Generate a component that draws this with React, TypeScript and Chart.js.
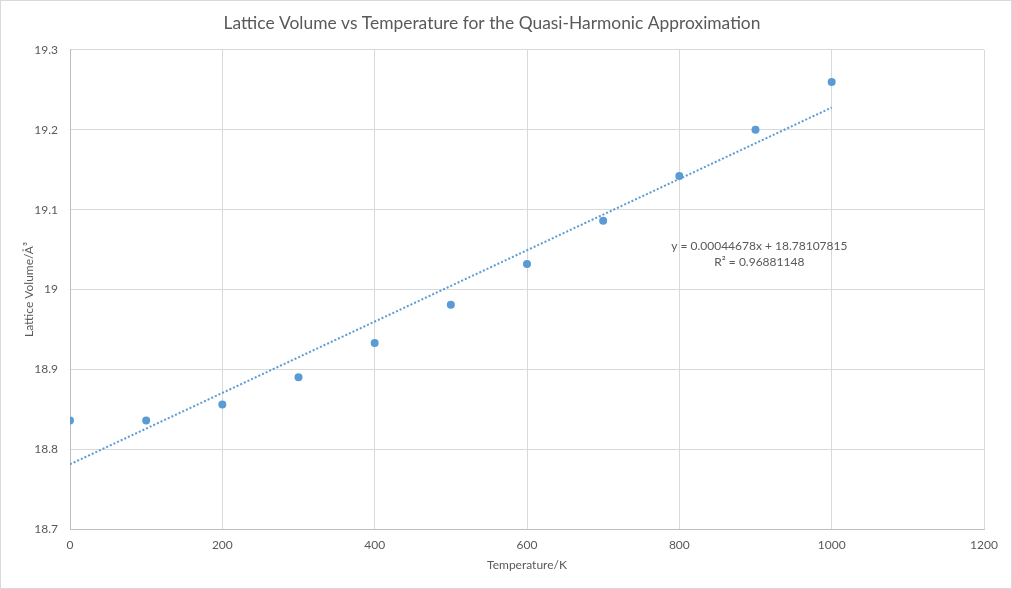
import React, { useEffect, useRef } from "react";
import { Chart, registerables } from "chart.js";

Chart.register(...registerables);

const temperatures = [0, 100, 200, 300, 400, 500, 600, 700, 800, 900, 1000];
const volumes = [18.836, 18.836, 18.856, 18.890, 18.933, 18.981, 19.032, 19.086, 19.142, 19.200, 19.260];
const trendSlope = 0.00044678;
const trendIntercept = 18.78107815;
const trendRange = [0, 1000];
const equationLines = ["y = 0.00044678x + 18.78107815", "R² = 0.96881148"];

const TITLE = "Lattice Volume vs Temperature for the Quasi-Harmonic Approximation";
const FONT = "Lato, 'Open Sans', sans-serif";
const TEXT = "#595959";
const BLUE = "#5b9bd5";

export default function App() {
  const ref = useRef<HTMLCanvasElement | null>(null);
  useEffect(() => {
    document.body.style.margin = "0";
    if (!ref.current) return;
    const frame = {
      id: "frame",
      afterDraw(chart: any) {
        const c = chart.ctx;
        c.save();
        c.strokeStyle = "#d9d9d9";
        c.lineWidth = 1;
        c.strokeRect(0.5, 0.5, chart.width - 1, chart.height - 1);
        const xs = chart.scales.x;
        const ys = chart.scales.y;
        c.fillStyle = TEXT;
        c.font = `12px ${FONT}`;
        c.textAlign = "center";
        c.textBaseline = "middle";
        const px = xs.getPixelForValue(905);
        const py = ys.getPixelForValue(19.054);
        equationLines.forEach((t, i) => c.fillText(t, px, py + i * 15.5));
        c.restore();
      },
    };
    const chart = new Chart(ref.current, {
      type: "scatter",
      data: {
        datasets: [
          {
            label: "trend",
            type: "line",
            data: trendRange.map((x) => ({ x, y: trendIntercept + trendSlope * x })),
            borderColor: BLUE,
            borderWidth: 2,
            borderDash: [2, 2],
            pointRadius: 0,
            fill: false,
            order: 0,
          } as any,
          {
            label: "Volume",
            data: temperatures.map((x, i) => ({ x, y: volumes[i] })),
            backgroundColor: BLUE,
            borderColor: BLUE,
            pointRadius: 4,
            pointBorderWidth: 0,
            order: 1,
          },
        ],
      },
      options: {
        animation: false,
        responsive: false,
        devicePixelRatio: 1,
        layout: { padding: { left: 0, right: 28, top: 0, bottom: 0 } },
        plugins: {
          legend: { display: false },
          tooltip: { enabled: false },
          title: {
            display: true,
            text: TITLE,
            color: TEXT,
            font: { family: FONT, size: 17.4, weight: "normal" },
            padding: { top: 12.5, bottom: 16.6 },
          },
        },
        scales: {
          x: {
            type: "linear",
            min: 0,
            max: 1200,
            ticks: {
              stepSize: 200,
              color: TEXT,
              font: { family: FONT, size: 12 },
              padding: 9,
              callback: (v: any) => String(v),
            },
            grid: { color: "#d9d9d9", drawTicks: false },
            border: { color: "#bfbfbf" },
            title: {
              display: true,
              text: "Temperature/K",
              color: TEXT,
              font: { family: FONT, size: 12 },
              padding: { top: 0, bottom: 17 },
            },
            afterFit(scale: any) {
              scale.height = 60;
            },
          },
          y: {
            type: "linear",
            min: 18.7,
            max: 19.3,
            ticks: {
              stepSize: 0.1,
              color: TEXT,
              font: { family: FONT, size: 12 },
              padding: 12,
              callback: (v: any) => String(Number(Number(v).toFixed(1))),
            },
            grid: { color: "#d9d9d9", drawTicks: false },
            border: { color: "#bfbfbf" },
            title: {
              display: true,
              text: "Lattice Volume/Å³",
              color: TEXT,
              font: { family: FONT, size: 12 },
              padding: { top: 22, bottom: 0 },
            },
            afterFit(scale: any) {
              scale.width = 70;
            },
          },
        },
      },
      plugins: [frame],
    });
    return () => chart.destroy();
  }, []);
  return (
    <div style={{ width: 1012, height: 589 }}>
      <canvas ref={ref} width={1012} height={589} />
    </div>
  );
}
